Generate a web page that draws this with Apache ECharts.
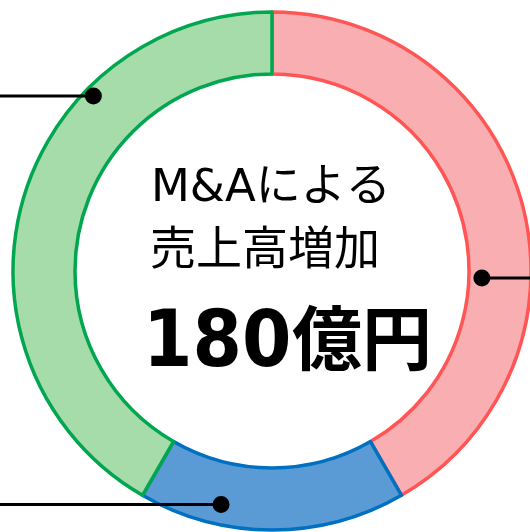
<!DOCTYPE html>
<html>
<head>
<meta charset="utf-8">
<script src="https://cdn.jsdelivr.net/npm/echarts@6/dist/echarts.min.js"></script>
<style>
html, body { margin: 0; padding: 0; background: #fff; }
#chart { width: 530px; height: 532px; }
</style>
</head>
<body>
<div id="chart"></div>
<script>
// 売上高増加の内訳 (億円)
var segmentNames = ['A', 'B', 'C'];
var segmentValues = [75, 30, 75];
var fillColors = ['#F9AFB2', '#5B9BD5', '#A6DCAA'];
var borderColors = ['#FF5555', '#0070C0', '#00A650'];
var centerLines = ['M&Aによる', '売上高増加'];
var totalText = '180';
var unitText = '億円';

var myChart = echarts.init(document.getElementById('chart'));

var cx = 272, cy = 271;
// 引き出し線の点 (時計回りの角度, 半径)
function dot(angle, r) {
    var a = angle * Math.PI / 180;
    return [cx + r * Math.sin(a), cy - r * Math.cos(a)];
}
var pGreen = dot(314.4, 250);
var pRed = dot(91.9, 210);
var pBlue = dot(192.3, 239);

var lineStyle = { stroke: '#000', lineWidth: 3 };

option = {
    animation: false,
    series: [
        {
            type: 'pie',
            center: [cx, cy],
            radius: [197, 259],
            startAngle: 90,
            clockwise: true,
            label: { show: false },
            labelLine: { show: false },
            emphasis: { disabled: true },
            data: segmentNames.map(function (n, i) {
                return {
                    name: n,
                    value: segmentValues[i],
                    itemStyle: {
                        color: fillColors[i],
                        borderColor: borderColors[i],
                        borderWidth: 3.5
                    }
                };
            })
        }
    ],
    graphic: [
        { type: 'line', shape: { x1: 0, y1: pGreen[1], x2: pGreen[0], y2: pGreen[1] }, style: lineStyle, z: 10 },
        { type: 'circle', shape: { cx: pGreen[0], cy: pGreen[1], r: 8.5 }, style: { fill: '#000' }, z: 10 },
        { type: 'line', shape: { x1: pRed[0], y1: pRed[1], x2: 530, y2: pRed[1] }, style: lineStyle, z: 10 },
        { type: 'circle', shape: { cx: pRed[0], cy: pRed[1], r: 8.5 }, style: { fill: '#000' }, z: 10 },
        { type: 'line', shape: { x1: 0, y1: pBlue[1], x2: pBlue[0], y2: pBlue[1] }, style: lineStyle, z: 10 },
        { type: 'circle', shape: { cx: pBlue[0], cy: pBlue[1], r: 8.5 }, style: { fill: '#000' }, z: 10 },
        {
            type: 'text', left: 151, top: 167, z: 10,
            style: { text: centerLines[0], font: '45px "DejaVu Sans", "Noto Sans CJK JP"', fill: '#000' }
        },
        {
            type: 'text', left: 150, top: 224, z: 10,
            style: { text: centerLines[1], font: '46px "Noto Sans CJK JP"', fill: '#000' }
        },
        {
            type: 'text', left: 143, top: 306, z: 10,
            style: { text: totalText, font: 'bold 79px "DejaVu Sans Condensed", "DejaVu Sans", "Noto Sans CJK JP"', fill: '#000' }
        },
        {
            type: 'text', left: 292, top: 303, z: 10,
            style: { text: unitText, font: 'bold 70px "Noto Sans CJK JP"', fill: '#000' }
        }
    ]
};

myChart.setOption(option);
</script>
</body>
</html>
